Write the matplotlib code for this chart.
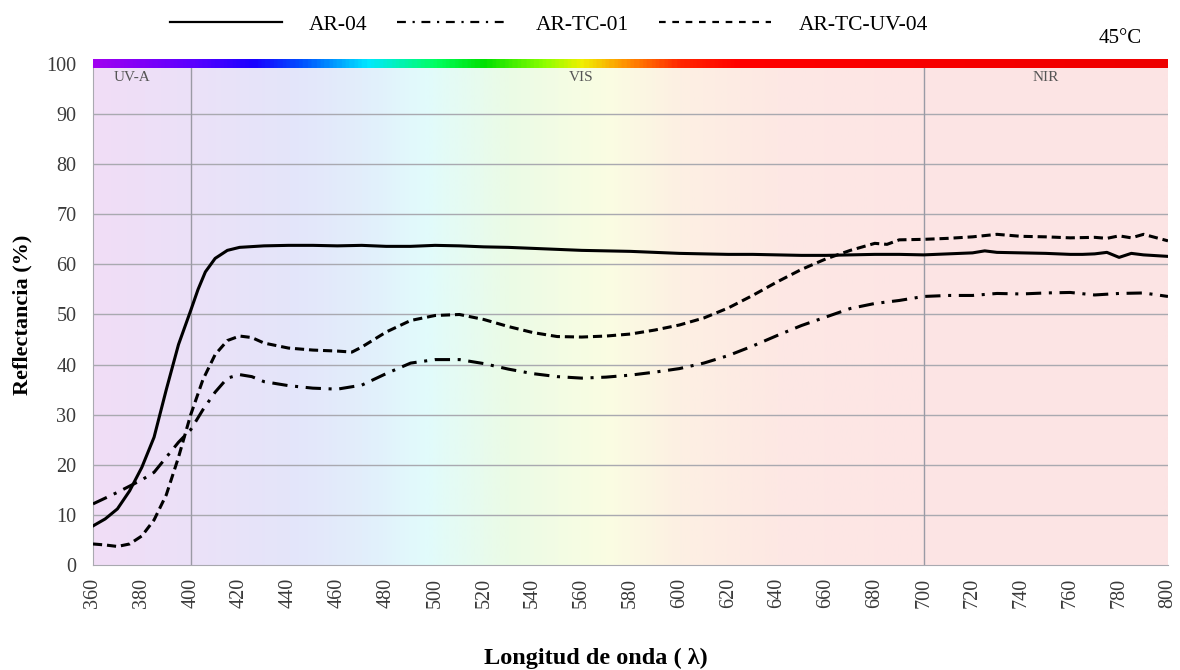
import matplotlib.pyplot as plt
import numpy as np
from matplotlib.colors import LinearSegmentedColormap
from matplotlib.lines import Line2D

plt.rcParams['font.family'] = ['Liberation Serif', 'DejaVu Serif']

# --- data ---
wl_ar04 = [360, 365, 370, 375, 380, 385, 390, 395, 400, 403, 406, 410, 415, 420, 430, 440, 450,
           460, 470, 480, 490, 500, 510, 520, 530, 540, 550, 560, 570, 580, 590, 600, 610, 620,
           630, 640, 650, 660, 670, 680, 690, 700, 710, 720, 725, 730, 740, 750, 760, 765, 770,
           775, 780, 785, 790, 800]
r_ar04 = [7.8, 9.2, 11.2, 14.8, 19.5, 25.5, 35, 44, 50.8, 55, 58.5, 61.2, 62.8, 63.4, 63.7, 63.8,
          63.8, 63.7, 63.8, 63.6, 63.6, 63.8, 63.7, 63.5, 63.4, 63.2, 63.0, 62.8, 62.7, 62.6, 62.4,
          62.2, 62.1, 62.0, 62.0, 61.9, 61.8, 61.8, 61.9, 62.0, 62.0, 61.9, 62.1, 62.3, 62.7, 62.4,
          62.3, 62.2, 62.0, 62.0, 62.1, 62.4, 61.4, 62.2, 61.9, 61.6]

wl_tc01 = [360, 370, 380, 385, 390, 395, 400, 405, 410, 415, 420, 425, 430, 440, 450, 460, 470,
           480, 490, 500, 510, 520, 530, 540, 550, 560, 570, 580, 590, 600, 610, 620, 630, 640,
           650, 660, 670, 680, 690, 700, 710, 720, 730, 740, 750, 760, 770, 780, 790, 800]
r_tc01 = [12.2, 14.5, 17.0, 18.5, 21.5, 24.5, 27.0, 31.0, 34.5, 37.3, 38.0, 37.6, 36.6, 35.8,
          35.3, 35.1, 35.9, 38.2, 40.3, 41.0, 41.0, 40.2, 39.1, 38.2, 37.6, 37.3, 37.5, 37.9, 38.5,
          39.2, 40.3, 41.8, 43.7, 45.8, 47.8, 49.5, 51.2, 52.2, 52.8, 53.6, 53.8, 53.8, 54.2, 54.1,
          54.3, 54.4, 53.9, 54.2, 54.3, 53.6]

wl_uv04 = [360, 365, 370, 375, 380, 385, 390, 395, 400, 405, 410, 415, 420, 425, 430, 440, 450,
           460, 466, 470, 480, 490, 500, 510, 520, 530, 540, 550, 560, 570, 580, 590, 600, 610,
           620, 630, 640, 650, 660, 670, 680, 685, 690, 700, 710, 720, 730, 740, 750, 760, 770,
           775, 780, 785, 790, 800]
r_uv04 = [4.2, 4.0, 3.7, 4.2, 5.8, 9.0, 14.0, 21.5, 30.0, 37.0, 42.0, 44.8, 45.7, 45.4, 44.3,
          43.3, 42.9, 42.7, 42.5, 43.5, 46.5, 48.8, 49.8, 50.0, 49.0, 47.6, 46.4, 45.6, 45.5, 45.7,
          46.1, 46.9, 47.9, 49.3, 51.3, 53.8, 56.5, 59.0, 61.1, 62.8, 64.2, 64.0, 64.9, 65.0, 65.2,
          65.5, 66.0, 65.6, 65.5, 65.3, 65.4, 65.2, 65.7, 65.3, 66.0, 64.7]

series_labels = ['AR-04', 'AR-TC-01', 'AR-TC-UV-04']
region_labels = ['UV-A', 'VIS', 'NIR']
region_pos = [376, 560, 750]
region_bounds = [400, 700]

# pale spectrum background and bright spectrum strip
bg_stops = [(360, '#f1ddf6'), (400, '#ebe1f8'), (440, '#e4e5fa'), (470, '#e2eefb'),
            (495, '#e1fbfc'), (530, '#ebfbe6'), (570, '#fafde2'), (600, '#fdf0e3'),
            (640, '#fde8e4'), (700, '#fde5e5'), (800, '#fce4e4')]
strip_stops = [(360, '#a000f0'), (400, '#5a00ff'), (425, '#1a00ff'), (445, '#0050ff'),
               (472, '#00e8ff'), (500, '#00ff60'), (520, '#00e000'), (545, '#90ff00'),
               (560, '#f0f000'), (578, '#ff9000'), (600, '#ff2800'), (625, '#ff0000'),
               (800, '#ee0000')]


def make_cmap(stops):
    return LinearSegmentedColormap.from_list(
        'c', [((w - 360) / 440, c) for w, c in stops])


fig = plt.figure(figsize=(11.8, 6.7), dpi=100)
ax = fig.add_axes([0.0788, 0.1567, 0.9110, 0.7478])

grad = np.linspace(0, 1, 600).reshape(1, -1)
ax.imshow(grad, extent=[360, 800, 0, 100], aspect='auto', cmap=make_cmap(bg_stops),
          zorder=0)
ax.imshow(grad, extent=[360, 800, 99.2, 100.8], aspect='auto', cmap=make_cmap(strip_stops),
          zorder=5, clip_on=False)

for y in range(10, 100, 10):
    ax.axhline(y, color='#a9a9b0', lw=1.0, zorder=1)
for x in region_bounds:
    ax.axvline(x, color='#9a9aa5', lw=1.0, zorder=1)
for lab, xp in zip(region_labels, region_pos):
    ax.text(xp, 97.3, lab, ha='center', va='center', fontsize=11, color='#555555', zorder=6)

ax.plot(wl_ar04, r_ar04, color='black', lw=2.2, zorder=4)
ax.plot(wl_tc01, r_tc01, color='black', lw=2.2, dashes=(5, 2.5, 1, 2.5), zorder=4)
ax.plot(wl_uv04, r_uv04, color='black', lw=2.2, dashes=(3, 1.6), zorder=4)

ax.set_xlim(360, 800)
ax.set_ylim(0, 100)
ax.set_xticks(range(360, 801, 20))
ax.set_yticks(range(0, 101, 10))
ax.tick_params(axis='x', labelrotation=90, length=0, labelsize=14.5, colors='#3a3a3a', pad=9)
ax.tick_params(axis='y', length=0, labelsize=14.5, colors='#3a3a3a', pad=12)
for side in ['top', 'right']:
    ax.spines[side].set_visible(False)
for side in ['left', 'bottom']:
    ax.spines[side].set_color('#a9a9b0')

ax.set_ylabel('Reflectancia (%)', fontsize=16, fontweight='bold', labelpad=10)
fig.text(0.505, 0.018, 'Longitud de onda ( λ)', ha='center', va='center', fontsize=17.5,
         fontweight='bold')

handles = [Line2D([], [], color='black', lw=1.6),
           Line2D([], [], color='black', lw=1.6, dashes=(4, 3, 1, 3)),
           Line2D([], [], color='black', lw=1.6, dashes=(3, 3))]
fig.legend(handles, series_labels, loc='center', bbox_to_anchor=(0.465, 0.963), ncol=3,
           frameon=False, fontsize=15.5, handlelength=5.2, handletextpad=1.25,
           columnspacing=1.4)
fig.text(0.949, 0.943, '45°C', ha='center', va='center', fontsize=15)

fig.savefig('out.png', dpi=100)
